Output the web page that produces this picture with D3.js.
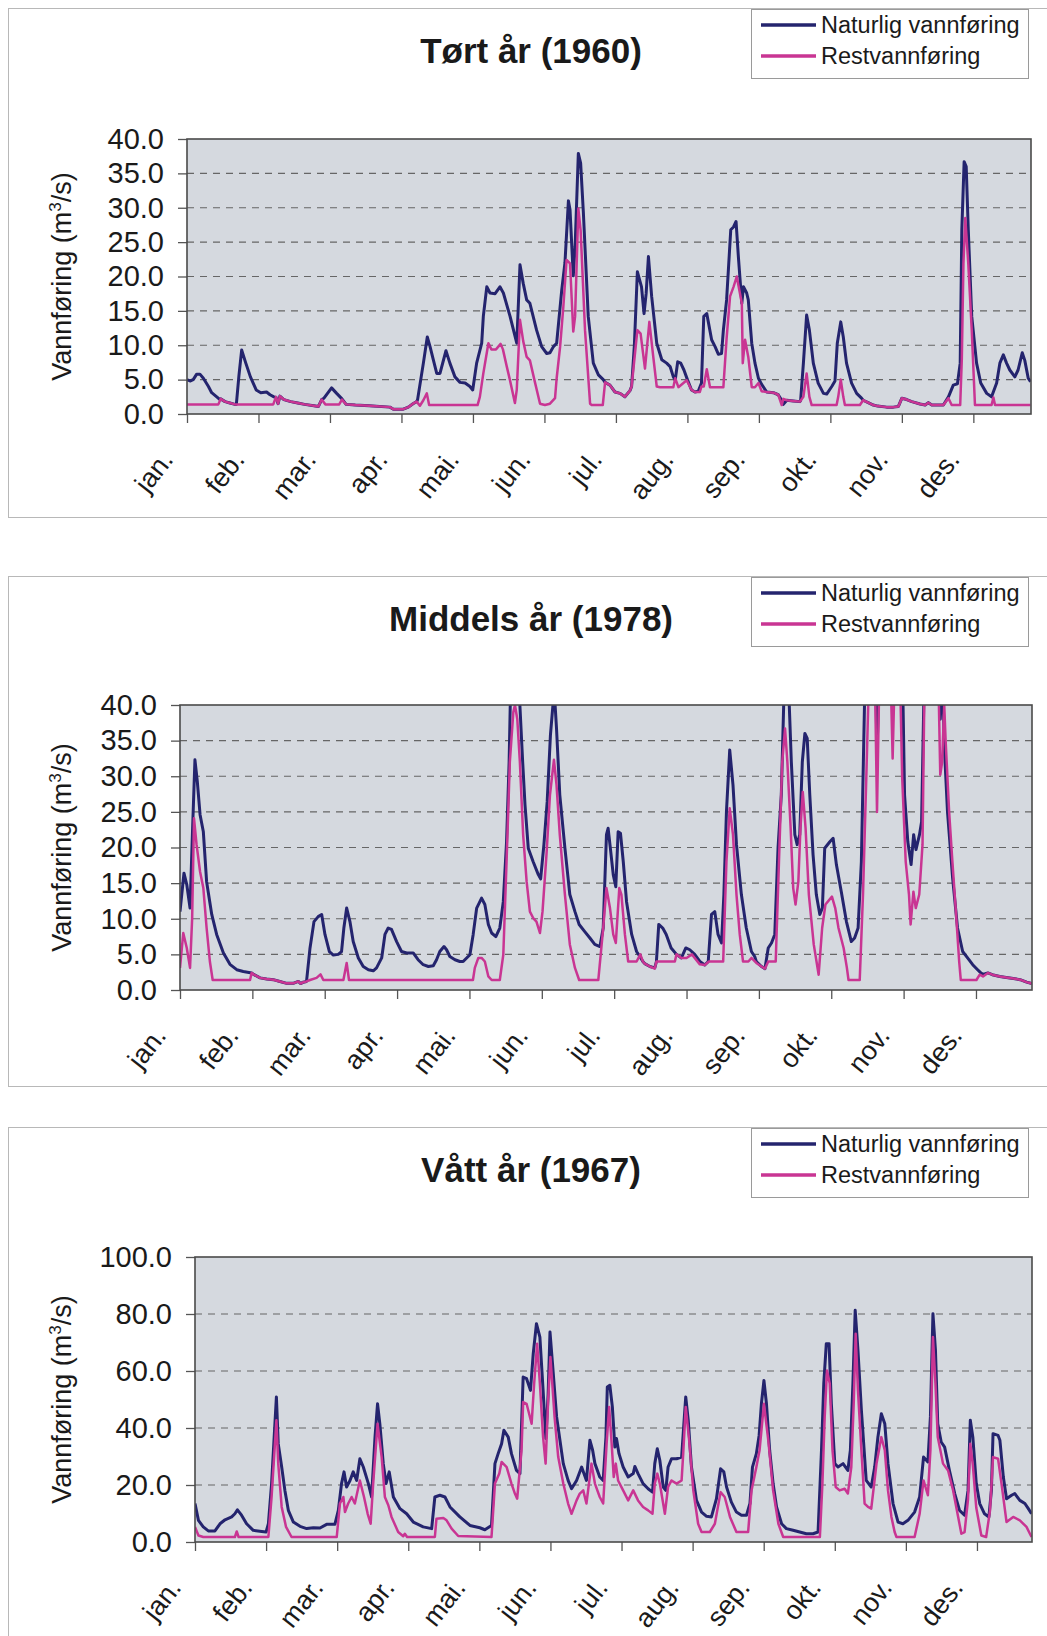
<!DOCTYPE html>
<html>
<head>
<meta charset="utf-8">
<script src="https://cdn.jsdelivr.net/npm/d3@7"></script>
<style>
  body { margin: 0; background: #fff; }
  text { font-family: "Liberation Sans", Arial, sans-serif; fill: #1a1a1a; }
</style>
</head>
<body>
<svg id="chart" width="1047" height="1636"></svg>
<script>
// month labels, one every 31 days on the category axis
var months = ["jan.", "feb.", "mar.", "apr.", "mai.", "jun.", "jul.", "aug.", "sep.", "okt.", "nov.", "des."];
var seriesNames = ["Naturlig vannføring", "Restvannføring"];

var ticks40 = [0, 5, 10, 15, 20, 25, 30, 35, 40];
var ticks100 = [0, 20, 40, 60, 80, 100];

// [day of year, m3/s]
var dryNatural = [[0,5.0],[1.3,4.8],[2.7,5.0],[4.2,5.8],[5.6,5.8],[7.1,5.2],[9.3,4.0],[10.7,3.1],[12.9,2.5],[14.3,2.1],[14.6,2.2],[16.5,1.8],[18.6,1.6],[20.8,1.4],[21.4,1.4],[22.5,5.5],[23.7,9.3],[25.5,7.4],[27.5,5.4],[30,3.5],[32,3.1],[34.5,3.2],[36,2.8],[37.7,2.5],[38.6,2.4],[39.5,1.5],[40.3,2.6],[42,2.1],[45,1.8],[48,1.6],[51,1.4],[55,1.2],[57,1.1],[58.4,2.1],[59.4,2.3],[62.7,3.8],[64.9,3.0],[67.2,2.2],[69,1.4],[73,1.3],[79,1.2],[88,1.0],[89.5,0.7],[93.8,0.7],[96,1.0],[98,1.5],[99.6,1.8],[100,2.1],[102.5,7.4],[104.2,11.2],[105.4,9.8],[106.8,7.9],[108.3,5.9],[109.7,5.9],[112.3,9.2],[114,7.4],[116.2,5.4],[118.4,4.6],[120.6,4.5],[122.7,4.0],[123.9,3.5],[125.6,7.4],[127.8,10.3],[128.5,14.2],[130,18.5],[131.4,17.6],[133.6,17.5],[135.7,18.5],[137.2,17.6],[140.1,14.2],[143,10.3],[144.4,21.7],[145.8,19.0],[147.3,16.6],[148.7,16.1],[151.6,12.2],[153.8,9.8],[156,8.8],[157.4,8.9],[158.9,9.8],[160.3,10.3],[162.5,18.0],[163.9,22.0],[165.4,31.0],[166.1,29.7],[167.5,20.1],[168.3,24.3],[169.7,37.9],[170.7,36.5],[171.9,29.2],[174,14.2],[176.2,7.4],[178.4,5.7],[180.5,5.0],[181.3,4.6],[183.4,4.2],[185.6,3.2],[187.8,3.0],[189.9,2.5],[192.1,3.4],[192.8,4.0],[194,10],[195.3,20.7],[197.1,18.5],[198.2,14.6],[199.1,17.5],[200.1,22.9],[201.5,17.1],[203.7,10.3],[205.9,7.9],[208,7.4],[209.5,6.9],[210.9,5.4],[211.7,4.9],[212.8,7.6],[214.1,7.4],[215.5,6.4],[217,5.0],[218.8,3.5],[220.3,3.2],[221.7,3.3],[223.1,4.5],[224.1,14.2],[225.4,14.6],[227.5,10.8],[229,9.8],[230.4,8.7],[231.8,8.8],[232.6,12.2],[234,16.6],[235.8,26.8],[237,27.2],[238.1,28.0],[239.1,22.9],[240.6,16.1],[241.3,18.5],[242.7,17.6],[243.4,16.6],[244.9,10.3],[246.3,7.4],[247.8,5.2],[249.2,4.3],[251.4,3.2],[254.3,3.1],[256.4,2.8],[257.9,2.0],[258.6,1.4],[260.1,2.0],[262.9,1.9],[265.8,1.8],[266.1,2.0],[267.3,7.4],[268.7,14.4],[269.9,12.2],[271.6,7.4],[273.7,4.5],[276,3.0],[277.4,2.9],[279.6,4.0],[281,4.8],[282,10.3],[283.5,13.4],[284.6,11.2],[286,7.4],[288.2,4.5],[290.4,3.0],[292.5,2.3],[293.2,2.0],[295.4,1.65],[297.6,1.3],[299.5,1.15],[303.4,1.0],[306.3,1.0],[308.5,1.1],[310,2.3],[312.1,2.1],[314.3,1.8],[317.9,1.45],[320.1,1.3],[321.5,1.65],[323,1.3],[328,1.3],[330.2,2.5],[332.3,4.2],[334.1,4.4],[335.3,7.4],[336,26.8],[337,36.7],[337.9,36.0],[338.8,26.8],[340.3,14.2],[342.4,7.4],[344.2,4.5],[346.8,3.0],[348.9,2.5],[351.1,4.5],[352.5,7.4],[354,8.6],[355.4,7.4],[356.8,6.4],[359,5.4],[360.4,6.4],[362.2,8.9],[363.3,7.8],[364.8,5.2],[365.8,4.7]];
var dryRest = [[0,1.4],[13.6,1.4],[14.6,2.2],[16.5,1.8],[18.6,1.6],[20.8,1.4],[37.4,1.4],[38.6,2.5],[39.5,1.5],[40.3,2.6],[42,2.1],[45,1.8],[48,1.6],[51,1.4],[55,1.2],[57,1.1],[58.4,2.1],[60,1.4],[66,1.4],[67.2,2.1],[69,1.4],[73,1.3],[79,1.2],[88,1.0],[89.5,0.7],[93.8,0.7],[96,1.0],[98,1.5],[99.6,1.8],[101,1.2],[102.5,2.0],[104,3.0],[105,1.3],[126,1.3],[127,2.5],[128.5,5.9],[130.7,10.3],[132,9.4],[134,9.4],[136,10.2],[137,9.4],[138.6,7.0],[140,5.0],[142.2,1.6],[143,3.5],[144.4,13.7],[145.8,10.6],[147.3,8.3],[148.7,7.8],[150.9,4.6],[153.1,1.5],[155.2,1.3],[157.4,1.5],[159.6,2.3],[160.3,5.2],[161.8,9.8],[163.2,15.6],[164.6,22.4],[166.1,21.9],[167.5,12.0],[168.3,14.2],[169.7,29.9],[170.7,26.7],[172.6,12.2],[174.8,1.5],[175.5,1.3],[180.3,1.3],[181.3,4.6],[183.4,4.2],[185.6,3.2],[187.8,3.0],[189.9,2.5],[192.1,3.4],[192.8,4.0],[195.3,12.2],[196.7,11.7],[198.6,6.6],[200.5,13.4],[202.2,8.3],[203.7,4.0],[205.1,3.9],[210.9,3.9],[211.7,5.2],[213.1,3.9],[216.7,4.9],[218.8,3.5],[220.3,3.2],[222.4,3.2],[223.1,4.0],[224.1,4.0],[225.4,6.5],[226.8,3.9],[232.6,3.9],[234,11.0],[235.5,17.1],[237,18.5],[238.4,20.0],[240.6,16.1],[241,7.4],[242,10.8],[243.4,8.3],[244.9,3.9],[246.3,3.9],[247.8,4.5],[249.2,3.3],[251.4,3.2],[254.3,3.1],[256.4,2.8],[257.9,1.3],[258.6,2.2],[260.1,2.0],[262.9,1.9],[265.8,1.8],[267.3,2.5],[268.7,5.9],[269.9,2.5],[270.9,1.3],[281.7,1.3],[282.4,2.5],[283.5,5.0],[284.6,2.5],[285.3,1.3],[291.8,1.3],[293.2,2.0],[295.4,1.65],[297.6,1.3],[299.5,1.15],[303.4,1.0],[306.3,1.0],[308.5,1.1],[310,2.3],[312.1,2.1],[314.3,1.8],[317.9,1.45],[320.1,1.3],[321.5,1.65],[323,1.3],[328,1.3],[330.2,2.3],[331.6,1.3],[335.3,1.3],[336,8],[336.7,21.9],[337.5,28.5],[338.8,21.9],[340.3,12.2],[341.7,1.3],[348.9,1.3],[349.7,2.4],[350.4,1.3],[365.8,1.3]];

var mediumNatural = [[0,11.0],[1.7,16.4],[2.9,14.8],[4.3,11.5],[5.4,22.7],[6.4,32.3],[7.4,29.3],[8.6,24.6],[10,22.2],[11.4,15.2],[13.6,10.6],[15.7,7.8],[18.6,5.2],[21.4,3.6],[24.3,2.85],[27.1,2.6],[30.7,2.4],[31.5,2.2],[34.3,1.7],[37.1,1.55],[40,1.45],[42.8,1.2],[45.7,0.93],[48.5,0.93],[50.7,1.2],[51.7,0.9],[52.8,1.1],[54.2,1.2],[55.7,5.9],[57.4,9.6],[59.2,10.3],[60.7,10.6],[62.1,7.8],[64,5.4],[65.7,4.9],[67.8,5.0],[69.2,5.4],[70.2,8.7],[71.4,11.5],[72.8,9.6],[74.2,6.8],[76.4,4.5],[78.5,3.3],[80.7,2.85],[82.8,2.7],[84.2,3.1],[86.4,4.5],[87.8,7.8],[89.2,8.7],[90.6,8.5],[92.8,6.8],[94.9,5.4],[97.1,5.2],[99.9,5.2],[102,4.25],[104.2,3.55],[106.4,3.3],[108.5,3.4],[109.9,4.25],[111.3,5.4],[113.1,6.1],[114.2,5.65],[115.6,4.7],[117.8,4.25],[119.9,4.0],[121.3,4.0],[122.8,4.5],[124.2,4.95],[125.6,7.8],[127.1,11.5],[129.2,12.9],[130.6,12.0],[132.1,9.2],[133.5,8.0],[135.3,7.5],[137,8.7],[138.5,12.4],[139.9,20.8],[141,32],[141.6,42],[145,45],[145.6,40],[146.8,32],[147.8,26],[149.2,19.9],[151.3,18.0],[153.5,16.2],[154.5,15.6],[155.9,20.4],[157.3,26.4],[158.7,35.8],[159.9,40.5],[160.6,40.5],[161.3,36.7],[162.7,27.4],[164.9,19.9],[167,13.4],[169.2,11.0],[171,9.2],[173.4,8.2],[175.6,7.3],[177.7,6.4],[179.9,6.1],[181.3,8.7],[182.7,21.8],[183.4,22.7],[184.2,20.4],[185.6,16.2],[186.7,14.5],[187.7,22.2],[188.7,22.0],[189.9,18.0],[191.3,12.4],[193.5,7.8],[195.6,5.4],[197,4.7],[198.3,4.0],[199.1,3.7],[201.3,3.3],[203.4,3.1],[204.1,4.0],[205.1,9.2],[206.8,8.7],[208.3,7.8],[210.4,5.9],[212.7,5.0],[214.8,4.5],[216.7,5.9],[218.4,5.65],[220.5,5.0],[222.7,4.0],[224.8,3.5],[226.3,4.0],[227.7,10.6],[229.1,11.0],[230.5,7.8],[232,6.6],[233,13.4],[234.1,25],[235.5,33.7],[236.9,28.8],[238.4,20.4],[240.5,13.4],[242.6,8.7],[244.8,5.4],[246.2,4.7],[246.9,4.0],[249.1,3.3],[250.6,3.0],[252,5.9],[253.4,6.6],[254.8,7.8],[256.2,19.9],[257.6,27.4],[258.7,41],[260.9,41],[261.9,32],[263.4,21.8],[264.4,20.4],[265.5,21.8],[266.6,32],[267.7,36],[268.7,35.3],[269.8,27.4],[271.2,19],[272.6,13.4],[274.1,10.6],[275.2,11.5],[276.2,19.9],[278.4,20.8],[279.8,21.3],[281.2,17.6],[283.3,13.8],[285.5,9.6],[287.6,6.8],[289,7.3],[290.5,8.7],[291.9,18],[293.3,41],[298,45],[298.6,33],[299.5,45],[309.5,45],[310.4,27.4],[311.8,20.8],[313.2,17.6],[314.3,21.8],[315.3,19.7],[316.8,21.8],[317.7,23.6],[318.9,45],[325.3,45],[325.7,38],[326.7,45],[327.4,34.4],[328.8,25],[331,15.7],[333.1,8.7],[335.3,5.4],[337.4,4.5],[339.6,3.55],[341.7,2.85],[343.1,2.4],[344,2.2],[346.1,2.4],[348,2.15],[351.2,1.9],[354,1.75],[357,1.6],[359.9,1.45],[362.7,1.1],[364.9,0.9]];
var mediumRest = [[0,3.1],[1.4,8.0],[2.9,5.9],[4.3,3.1],[5.2,10],[6.0,24.1],[7.1,20.4],[8.6,16.6],[10,14.3],[11.4,8.7],[12.8,4.0],[14,1.4],[30,1.4],[30.7,2.4],[31.5,2.2],[34.3,1.7],[37.1,1.55],[40,1.45],[42.8,1.2],[45.7,0.93],[48.5,0.93],[50.7,1.2],[51.7,0.9],[52.8,1.1],[54.2,1.2],[55.7,1.4],[58.5,1.7],[60.2,2.2],[61.4,1.4],[70,1.4],[70.7,2.6],[71.4,3.8],[72.4,1.4],[125.5,1.4],[126.3,3.1],[127.8,4.5],[129.2,4.5],[130.6,4.0],[132.1,1.9],[133.5,1.4],[137,1.4],[138.5,4.95],[139.9,18],[141.3,32],[142.8,39],[143.5,40],[144.5,38],[145.6,32],[147,21.8],[148.5,15.2],[149.9,11.0],[151.3,10.1],[152.7,9.6],[154.2,8.0],[155.3,11.0],[157,19],[158.5,27.4],[160.2,32.3],[161.3,28.8],[162.7,21.8],[164.9,13.4],[167,6.4],[169.2,3.1],[171,1.4],[179.2,1.4],[181.3,8.7],[182.7,14.3],[184.2,11.5],[185.6,7.8],[186.7,6.6],[188.2,14.3],[189.1,13.4],[190.6,7.8],[192,4.0],[195.6,4.0],[197.2,5.0],[198.3,4.0],[199.1,3.7],[201.3,3.3],[203.4,3.0],[204.1,4.0],[212,4.0],[212.7,5.0],[214.8,4.5],[217,4.5],[219.3,5.0],[220.5,4.5],[222.7,3.6],[224.8,3.5],[226.6,4.0],[232.7,4.0],[234.1,18],[235.5,25.5],[236.9,21.8],[238.4,13.4],[239.8,7.8],[241.2,4.0],[243.5,4.0],[244.8,4.5],[246.9,3.8],[249.1,3.3],[250.6,3.0],[252,4.0],[255.2,4.0],[256.6,18],[258,32],[259.2,36.7],[260.2,32],[261.6,22.7],[262.7,14.3],[263.7,12],[264.9,15.2],[265.8,22.7],[266.8,27.8],[268,22.7],[269.4,13.4],[271.5,6.4],[273.6,2.15],[275.1,8.7],[276.5,12],[279.3,13.1],[280.7,11.5],[282.1,8.7],[284.3,5.9],[285.7,3.1],[286.4,1.4],[291.2,1.4],[292.6,13.4],[294,29.7],[295,42],[297.8,42],[298.6,25],[299.5,42],[304.6,42],[305.3,32.5],[306,42],[308.6,42],[309.4,29.7],[310.9,18],[312.3,13.4],[313,9.2],[314.2,13.8],[315.2,11.5],[316.7,13.4],[318.1,20.4],[318.9,42],[325,42],[325.7,30.2],[326.5,32],[327.4,40],[328,35],[329.5,25],[330.9,18],[332.4,11],[333.8,4.0],[334.5,1.4],[341.2,1.4],[342.6,2.15],[344,1.9],[346.1,2.4],[348,2.15],[351.2,1.9],[354,1.75],[357,1.6],[359.9,1.45],[362.7,1.1],[364.9,0.9]];

var wetNatural = [[0,13.5],[1.5,7.6],[3.6,5.3],[5.8,3.9],[8.7,3.9],[10.9,6.4],[13.1,7.8],[16,8.8],[17.4,9.9],[18.5,11.3],[20.3,9.4],[22.5,6.4],[25.4,4.1],[29.1,3.7],[31,3.5],[32,6.4],[33.4,20.5],[35.5,50.9],[36.3,34.5],[37.8,26.3],[39.2,18.1],[40.7,11.1],[42.9,7.0],[45.8,5.5],[48.7,4.7],[51.6,5.0],[54.5,4.9],[57.4,6.2],[61,6.2],[62.5,11.1],[63.9,20.5],[65,24.6],[66.1,19.3],[67.6,21.6],[69,24.6],[70.5,21.6],[71.9,29.2],[73.4,26.3],[75.6,20.5],[77,15.8],[78.5,36.8],[79.6,48.5],[80.6,41.5],[82.1,27.5],[83.3,20.5],[84.7,24.6],[86.5,15.8],[89.4,11.7],[92.3,9.9],[95.2,7.0],[99.5,5.3],[103.2,4.7],[104.6,15.8],[106.8,16.4],[109,15.8],[111.2,12.3],[115.5,8.8],[119.9,5.8],[124.2,5.0],[126.4,4.3],[129.3,5.8],[130.8,27.5],[132.2,31],[133.7,34.5],[134.7,39.2],[136.6,36.8],[138,31],[140.2,25.1],[141.7,24.0],[143.1,57.9],[144.6,57.3],[146.3,53.2],[147.5,66.1],[148.9,76.6],[150.4,71.9],[151.8,53.2],[153,36.3],[154,52],[154.8,73.7],[155.9,62.6],[157.7,43.9],[160.6,27.5],[162.7,21.6],[164.2,18.7],[166.4,21.6],[168.6,26.3],[170.7,21.6],[172.2,35.7],[173.4,32.2],[174.4,27.5],[176.5,22.8],[178,21.6],[179.2,36.8],[179.8,54.4],[180.9,55],[182,47.4],[183.1,33.3],[183.8,36.3],[184.9,31],[186.7,26.3],[188.9,22.8],[191.1,24],[191.8,26.5],[193.2,24],[195.4,20.5],[197.6,18.7],[199.5,17.5],[200.5,27.5],[201.6,32.7],[202.7,28.7],[204.2,19.3],[205.3,18.1],[206.3,26.3],[207.8,29.2],[210,29.2],[212.2,29.8],[212.9,38],[214,50.9],[215.1,42.7],[216.5,26.3],[218.7,14.6],[220.9,10.5],[223.1,9.0],[225.2,8.8],[227.4,15.2],[229.2,25.7],[230.6,24.6],[231.8,19.3],[233.9,14],[236.1,10.5],[238.3,9.4],[240.5,9.4],[242,13.5],[243.1,26.3],[244.8,31],[246,37.4],[247,48.5],[248.1,56.7],[249.2,48.5],[250.6,32.2],[252.1,20.5],[253.6,12.3],[255.8,6.4],[257.9,4.7],[260.8,4.1],[263.7,3.5],[266.6,2.9],[269.5,2.9],[271.7,3.5],[273.2,32.2],[274.2,55.6],[275.3,69.6],[276.5,69.6],[277.5,48.5],[279,27.5],[280.4,26.3],[282.6,27.5],[284.7,25.1],[285.8,32.2],[286.9,55.6],[287.9,81.3],[289.1,67.3],[290.6,46.2],[292.7,21.6],[294.9,19.3],[296.4,26.3],[297.8,36.8],[299.3,45],[300.8,41.5],[302.2,27.5],[304.4,13.5],[306.6,7.0],[308.7,6.4],[310.9,7.6],[313.8,10.5],[316,15.8],[317.7,29.8],[319.6,28.1],[320.7,43.9],[321.8,80.1],[322.9,67.3],[323.9,41.5],[325.4,35.1],[326.9,33.3],[329,25.1],[331.3,17],[333.4,11.1],[335.6,9.4],[337.1,18.1],[338.1,42.7],[339.2,36.8],[340.7,20.5],[342.2,13.5],[344.3,9.9],[346.2,8.8],[347.3,18.1],[348,38],[350.2,37.4],[351,35.7],[352.5,22.8],[353.9,15.2],[356.1,16.4],[357.5,17],[359.7,14.6],[361.9,13.5],[363.4,11.7],[364.8,9.9]];
var wetRest = [[0,5.3],[1.5,2.3],[3.6,1.75],[17.4,1.75],[18.2,3.7],[19,1.75],[32,1.75],[33.4,15.8],[35.5,42.7],[36.3,27.5],[37.8,12.3],[39.7,5.3],[42.1,1.75],[61.8,1.75],[63.2,13.5],[64.7,15.8],[65.4,10.5],[66.8,13.5],[68.3,15.8],[69.7,13.5],[71.9,21.6],[73.7,15.8],[75.3,9.9],[76.6,6.4],[77.7,20.5],[79.6,41.5],[81.4,29.8],[82.8,15.8],[84.3,12.9],[85.7,8.8],[88.6,3.5],[90.8,2.0],[91.5,2.9],[92.5,1.75],[104.6,1.75],[105.3,8.2],[108.3,8.4],[109.7,7.6],[111.9,4.7],[114.8,2.1],[129.3,1.75],[130.8,20.5],[132.7,24],[133.7,28.1],[135.9,26.3],[138,20.5],[139.5,17],[140.5,15.2],[142.4,32.2],[143.1,49.1],[144.6,48.5],[146.8,41.5],[147.9,55.6],[149.2,69.6],[150.4,55.6],[151.8,36.8],[152.9,27.5],[154,49.7],[155,64.9],[156.8,43.9],[158.4,29.8],[160.6,20.5],[162.7,13.5],[164.2,9.9],[166.4,14.6],[167.8,17],[169.3,18.1],[170.7,13.5],[172.9,27.5],[174.4,20.5],[176.5,15.8],[178,13.5],[179.5,34.5],[180.6,47.4],[181.6,35.7],[182.6,22.8],[183.5,27.5],[184.5,21.6],[186.7,18.1],[188.9,14.6],[191.1,18.1],[193.2,14.6],[195.4,12.3],[197.6,11.1],[199.5,9.9],[200.5,20.5],[201.6,24],[202.7,20.5],[204.9,9.9],[206.3,19.3],[207.8,21.6],[210,20.5],[212.2,21.6],[212.9,31],[214,47.4],[215.5,35.7],[217.3,18.1],[219.4,6.4],[220.9,3.5],[224.5,3.5],[226.7,6.4],[229.2,17.5],[231,15.8],[233.3,8.8],[236.1,3.5],[241.2,3.5],[242.7,18.1],[244.8,26.3],[246.2,32.2],[248.1,48.5],[250,35.7],[252.1,18.1],[254.4,6.4],[256.5,1.75],[272.5,1.75],[273.6,20.5],[274.6,43.9],[275.6,60.2],[276.8,55.6],[278,32.2],[279.4,19.3],[281.1,18.1],[283.3,18.7],[284.7,17],[286.2,26.3],[287.3,49.7],[288.1,73.1],[289.1,53.2],[290.6,32.2],[292,13.5],[293.5,12.3],[294.9,11.7],[297.2,27.5],[299.3,36.8],[300.8,32.2],[302.2,18.1],[303.7,8.8],[305.1,3.5],[305.9,1.75],[313.8,1.75],[316,9.9],[317.7,21.6],[319.6,16.4],[320.7,32.2],[321.8,71.9],[322.9,55.6],[323.9,36.8],[326.2,27.5],[328.4,25.1],[330.6,18.1],[332.8,8.8],[334.2,2.9],[335.6,3.5],[337.1,15],[338.1,34.5],[339.2,27],[340.7,12],[342.9,2.3],[345,1.75],[346.7,11.1],[348,29.8],[350.2,29.2],[351.7,20.5],[353.9,7.0],[356.8,8.8],[359.7,7.6],[362.6,5.3],[364.8,1.75]];

// layout of the three panels
var panels = [
  {title: "Tørt år (1960)", natural: dryNatural, rest: dryRest, yTicks: ticks40, days: 366,
   top: 8, bottom: 517, left: 187, right: 1031, plotTop: 139, plotBottom: 414},
  {title: "Middels år (1978)", natural: mediumNatural, rest: mediumRest, yTicks: ticks40, days: 365,
   top: 576, bottom: 1086, left: 180, right: 1032, plotTop: 705, plotBottom: 990},
  {title: "Vått år (1967)", natural: wetNatural, rest: wetRest, yTicks: ticks100, days: 365,
   top: 1127, bottom: 1700, left: 195, right: 1032, plotTop: 1257, plotBottom: 1542}
];

var blue = "#24246e",
    pink = "#c93593",
    plotFill = "#d5d9df";

var svg = d3.select("#chart");

panels.forEach(function(p, i) {
  var g = svg.append("g");

  // outer frame
  g.append("rect")
   .attr("x", 8.5).attr("y", p.top + 0.5)
   .attr("width", 1060).attr("height", p.bottom - p.top)
   .attr("fill", "none").attr("stroke", "#b8b8b8");

  var x = d3.scaleLinear().domain([0, p.days]).range([p.left, p.right]),
      y = d3.scaleLinear().domain([0, d3.max(p.yTicks)]).range([p.plotBottom, p.plotTop]);

  g.append("rect")
   .attr("x", p.left).attr("y", p.plotTop)
   .attr("width", p.right - p.left).attr("height", p.plotBottom - p.plotTop)
   .attr("fill", plotFill);

  // dashed grid
  g.selectAll(".grid")
   .data(p.yTicks.slice(1, -1))
   .enter().append("line")
   .attr("x1", p.left).attr("x2", p.right)
   .attr("y1", function(d) { return y(d); })
   .attr("y2", function(d) { return y(d); })
   .attr("stroke", "#666").attr("stroke-width", 1.2)
   .attr("stroke-dasharray", "7,6");

  // y axis
  var yAxis = d3.axisLeft(y).tickValues(p.yTicks).tickSize(9).tickPadding(14)
                .tickFormat(d3.format(".1f"));
  var ya = g.append("g").attr("transform", "translate(" + p.left + ",0)").call(yAxis);
  ya.select(".domain").remove();
  ya.selectAll("line").attr("stroke", "#555").attr("stroke-width", 1.3);
  ya.selectAll("text").attr("font-size", 29).attr("fill", "#1a1a1a")
    .style("font-family", '"Liberation Sans", Arial, sans-serif');

  // x axis, a tick every 31 days
  var xAxis = d3.axisBottom(x).tickValues(d3.range(0, 365, 31)).tickSize(9)
                .tickFormat(function(d, k) { return months[k]; });
  var xa = g.append("g").attr("transform", "translate(0," + p.plotBottom + ")").call(xAxis);
  xa.select(".domain").remove();
  xa.selectAll("line").attr("stroke", "#555").attr("stroke-width", 1.3);
  xa.selectAll("text")
    .attr("x", 0).attr("y", 0).attr("dy", 0)
    .attr("transform", "translate(-13,46) rotate(-52)")
    .attr("text-anchor", "end")
    .attr("font-size", 27).attr("fill", "#1a1a1a")
    .style("font-family", '"Liberation Sans", Arial, sans-serif');

  // y title
  var yt = g.append("text")
    .attr("transform", "translate(71," + ((p.plotTop + p.plotBottom) / 2) + ") rotate(-90)")
    .attr("text-anchor", "middle")
    .attr("font-size", 27);
  yt.append("tspan").text("Vannføring (m");
  yt.append("tspan").attr("font-size", 17).attr("dy", -10).text("3");
  yt.append("tspan").attr("dy", 10).text("/s)");

  // series, clipped to plot
  var clipId = "clip" + i;
  g.append("clipPath").attr("id", clipId)
   .append("rect")
   .attr("x", p.left).attr("y", p.plotTop)
   .attr("width", p.right - p.left).attr("height", p.plotBottom - p.plotTop);

  var line = d3.line()
    .x(function(d) { return x(d[0]); })
    .y(function(d) { return y(d[1]); });

  var lines = g.append("g").attr("clip-path", "url(#" + clipId + ")");
  lines.append("path").datum(p.natural)
    .attr("d", line).attr("fill", "none")
    .attr("stroke", blue).attr("stroke-width", 3).attr("stroke-linejoin", "round");
  lines.append("path").datum(p.rest)
    .attr("d", line).attr("fill", "none")
    .attr("stroke", pink).attr("stroke-width", 2.5).attr("stroke-linejoin", "round");

  // plot border
  g.append("rect")
   .attr("x", p.left).attr("y", p.plotTop)
   .attr("width", p.right - p.left).attr("height", p.plotBottom - p.plotTop)
   .attr("fill", "none").attr("stroke", "#4a4a4a").attr("stroke-width", 1.6);

  // title
  g.append("text")
   .attr("x", 531).attr("y", p.top + 55)
   .attr("text-anchor", "middle")
   .attr("font-size", 35).attr("font-weight", "bold")
   .text(p.title);

  // legend
  var lg = g.append("g").attr("transform", "translate(751," + (p.top + 1) + ")");
  lg.append("rect").attr("x", 0.5).attr("y", 0.5).attr("width", 277).attr("height", 69)
    .attr("fill", "#fff").attr("stroke", "#9a9a9a");
  [blue, pink].forEach(function(c, k) {
    var yy = 16 + k * 31;
    lg.append("line").attr("x1", 10).attr("x2", 65).attr("y1", yy).attr("y2", yy)
      .attr("stroke", c).attr("stroke-width", 3.5);
    lg.append("text").attr("x", 70).attr("y", yy + 8)
      .attr("font-size", 23.5).text(seriesNames[k]);
  });
});
</script>
</body>
</html>
